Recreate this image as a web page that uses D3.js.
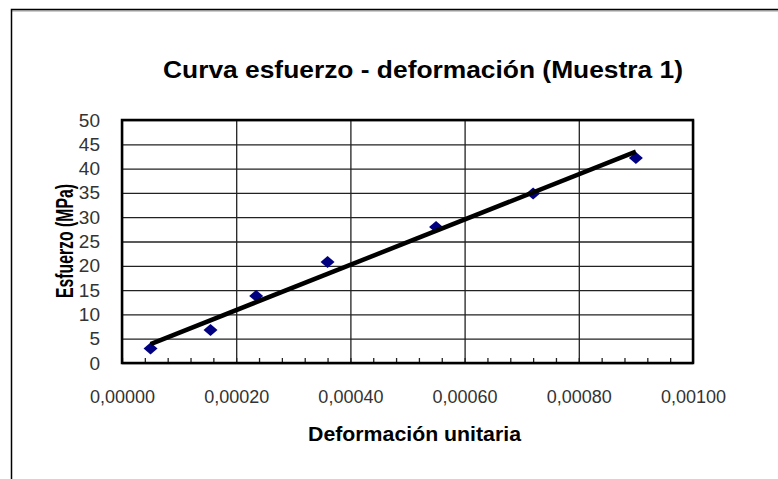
<!DOCTYPE html>
<html>
<head>
<meta charset="utf-8">
<script src="https://cdn.jsdelivr.net/npm/d3@7"></script>
<style>
  body { margin: 0; background: #fff; }
  text { font-family: "Liberation Sans", Arial, sans-serif; }
</style>
</head>
<body>
<div class="chart-container"></div>
<script>
const svgWidth = 778;
const svgHeight = 479;

// plot area (px)
const plotLeft = 122, plotRight = 693, plotTop = 120, plotBottom = 363;

// data
const strain = [0.00005, 0.000155, 0.000235, 0.00036, 0.00055, 0.00072, 0.0009];
const stress = [3.0, 6.8, 13.8, 20.8, 28.0, 34.9, 42.2];
// linear trend line end points
const trendStrain = [0.00005, 0.0009];
const trendStress = [3.9, 43.5];

const xTicks = [0, 0.0002, 0.0004, 0.0006, 0.0008, 0.001];
const xMinorTicks = d3.range(0, 25).map(i => i * 0.00004);
const yTicks = [0, 5, 10, 15, 20, 25, 30, 35, 40, 45, 50];

const titleText = "Curva esfuerzo - deformación (Muestra 1)";
const xLabel = "Deformación unitaria";
const yLabel = "Esfuerzo (MPa)";

const svg = d3.select(".chart-container")
              .append("svg")
              .attr("width", svgWidth)
              .attr("height", svgHeight);

svg.append("rect")
   .attr("width", svgWidth)
   .attr("height", svgHeight)
   .style("fill", "#fff");

// outer chart frame (runs off the right and bottom)
svg.append("line")
   .attr("x1", 11.5).attr("y1", 11).attr("x2", svgWidth).attr("y2", 11)
   .style("stroke", "#999").style("stroke-width", 1);
svg.append("rect")
   .attr("x", 11.5).attr("y", 9.5)
   .attr("width", 900).attr("height", 600)
   .style("fill", "none")
   .style("stroke", "#000")
   .style("stroke-width", 1.5);

const xScale = d3.scaleLinear().domain([0, 0.001]).range([plotLeft, plotRight]);
const yScale = d3.scaleLinear().domain([0, 50]).range([plotBottom, plotTop]);

const fmtX = d => d3.format(".5f")(d).replace(".", ",");

// horizontal grid
svg.append("g")
   .attr("transform", "translate(" + plotLeft + ",0)")
   .call(d3.axisLeft(yScale).tickValues(yTicks).tickSize(-(plotRight - plotLeft)).tickFormat(""))
   .call(g => g.select(".domain").remove())
   .selectAll("line")
   .style("stroke", "#222")
   .style("stroke-width", 1.3);

// vertical grid
svg.append("g")
   .attr("transform", "translate(0," + plotBottom + ")")
   .call(d3.axisBottom(xScale).tickValues(xTicks).tickSize(-(plotBottom - plotTop)).tickFormat(""))
   .call(g => g.select(".domain").remove())
   .selectAll("line")
   .style("stroke", "#222")
   .style("stroke-width", 1.3);

// minor ticks pointing inward
svg.append("g")
   .attr("transform", "translate(0," + plotBottom + ")")
   .call(d3.axisBottom(xScale).tickValues(xMinorTicks).tickSize(-5).tickFormat(""))
   .call(g => g.select(".domain").remove())
   .selectAll("line")
   .style("stroke", "#222")
   .style("stroke-width", 1.3);

// y tick labels
svg.append("g")
   .attr("transform", "translate(" + plotLeft + ",0)")
   .call(d3.axisLeft(yScale).tickValues(yTicks).tickSize(0).tickPadding(22))
   .call(g => g.select(".domain").remove())
   .selectAll("text")
   .style("font-size", "19px")
   .style("fill", "#333")
   .style("font-family", "'Liberation Sans', Arial, sans-serif");

// x tick labels
svg.append("g")
   .attr("transform", "translate(0," + plotBottom + ")")
   .call(d3.axisBottom(xScale).tickValues(xTicks).tickSize(0).tickPadding(27).tickFormat(fmtX))
   .call(g => g.select(".domain").remove())
   .selectAll("text")
   .style("font-size", "18px")
   .style("fill", "#333")
   .style("font-family", "'Liberation Sans', Arial, sans-serif");

// plot border
svg.append("rect")
   .attr("x", plotLeft).attr("y", plotTop)
   .attr("width", plotRight - plotLeft)
   .attr("height", plotBottom - plotTop)
   .style("fill", "none")
   .style("stroke", "#000")
   .style("stroke-width", 2.5);

// points
const diamond = "M0,-6L7,0L0,6L-7,0Z";
svg.selectAll(".pt")
   .data(strain.map((d, i) => ({x: d, y: stress[i]})))
   .enter()
   .append("path")
   .attr("class", "pt")
   .attr("d", diamond)
   .attr("transform", d => "translate(" + xScale(d.x) + "," + yScale(d.y) + ")")
   .style("fill", "#000080");

// trend line
const line = d3.line().x(d => xScale(d[0])).y(d => yScale(d[1]));
svg.append("path")
   .datum(trendStrain.map((d, i) => [d, trendStress[i]]))
   .attr("d", line)
   .style("fill", "none")
   .style("stroke", "#000")
   .style("stroke-width", 4.5);

// title
svg.append("text")
   .attr("x", 423)
   .attr("y", 78)
   .attr("text-anchor", "middle")
   .attr("textLength", 520)
   .attr("lengthAdjust", "spacingAndGlyphs")
   .style("font-size", "23px")
   .style("font-weight", "bold")
   .text(titleText);

// x axis title
svg.append("text")
   .attr("x", 414.5)
   .attr("y", 441)
   .attr("text-anchor", "middle")
   .attr("textLength", 213)
   .attr("lengthAdjust", "spacingAndGlyphs")
   .style("font-size", "21px")
   .style("font-weight", "bold")
   .text(xLabel);

// y axis title
svg.append("text")
   .attr("transform", "translate(73,241) rotate(-90)")
   .attr("text-anchor", "middle")
   .attr("textLength", 114)
   .attr("lengthAdjust", "spacingAndGlyphs")
   .style("font-size", "24px")
   .style("font-weight", "bold")
   .text(yLabel);
</script>
</body>
</html>
